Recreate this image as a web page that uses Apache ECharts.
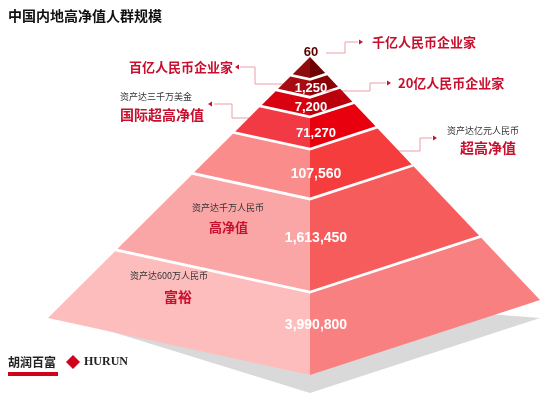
<!DOCTYPE html>
<html><head><meta charset="utf-8">
<script src="https://cdn.jsdelivr.net/npm/echarts@6/dist/echarts.min.js"></script>
<style>html,body{margin:0;padding:0;background:#fff}#c{width:550px;height:403px}</style>
</head><body><div id="c"></div>
<script>
const tierValues = [60, 1250, 7200, 71270, 107560, 1613450, 3990800];
const tierLabels = ['60', '1,250', '7,200', '71,270', '107,560', '1,613,450', '3,990,800'];
const tierBounds = [0, 0.066, 0.122, 0.184, 0.285, 0.442, 0.735, 1];
const leftColors = ['#8e0b0e', '#a80b12', '#d9000f', '#f23a45', '#fa8c8c', '#fba6a6', '#fdbdbd'];
const rightColors = ['#6e0004', '#8c0007', '#b9000b', '#e9000f', '#f53d3d', '#f65c5c', '#f98080'];
const annotTitles = ['千亿人民币企业家', '百亿人民币企业家', '20亿人民币企业家', '国际超高净值', '超高净值', '高净值', '富裕'];
const annotSubs = ['', '', '', '资产达三千万美金', '资产达亿元人民币', '资产达千万人民币', '资产达600万人民币'];

const A=[310,57], L=[48,318], F=[310,375], R=[540,300];
function pt(P,t){return [A[0]+(P[0]-A[0])*t, A[1]+(P[1]-A[1])*t];}
const gap = 0.009;

const chart = echarts.init(document.getElementById('c'));
const red = '#c8102e';
function lineEl(pts){return {type:'polyline',shape:{points:pts},style:{stroke:'#e8a0a8',lineWidth:1,fill:null},silent:true};}
function arrow(x,y,dir){return {type:'polygon',shape:{points: dir>0?[[x,y-2.5],[x+4,y],[x,y+2.5]]:[[x,y-2.5],[x-4,y],[x,y+2.5]]},style:{fill:red}};}
function txt(x,y,s,o){return {type:'text',x:x,y:y,z:100,style:Object.assign({text:s,font:'bold 13px "Noto Sans CJK SC"',fill:red,textVerticalAlign:'middle'},o||{})};}
const small = {font:'9px "Noto Sans CJK SC"', fill:'#333'};

const graphics = [
  txt(8,16,'中国内地高净值人群规模',{fill:'#111',font:'bold 14px "Noto Sans CJK SC"'}),
  {type:'polygon',z:-10,shape:{points:[[80,322],[310,393],[540,318],[310,300]]},style:{fill:'#d9d9d9'}},
  lineEl([[326,53],[345,53],[345,42],[358,42]]), arrow(359,42,1), txt(372,42,annotTitles[0]),
  lineEl([[295,84],[255,84],[255,67],[240,67]]), arrow(239,67,-1), txt(233,67,annotTitles[1],{textAlign:'right'}),
  lineEl([[325,91],[370,91],[370,83],[386,83]]), arrow(387,83,1), txt(398,83,annotTitles[2]),
  txt(120,97,annotSubs[3],small), arrow(212,104,-1),
  lineEl([[214,104],[232,104],[232,118],[262,118]]), txt(120,115,annotTitles[3],{font:'bold 14px "Noto Sans CJK SC"'}),
  lineEl([[390,151],[420,151],[420,138],[432,138]]), arrow(433,138,1),
  txt(447,131,annotSubs[4],small), txt(460,148,annotTitles[4],{font:'bold 14px "Noto Sans CJK SC"'}),
  txt(192,208,annotSubs[5],small), txt(209,227,annotTitles[5],{font:'bold 13px "Noto Sans CJK SC"'}),
  txt(130,276,annotSubs[6],small), txt(164,297,annotTitles[6],{font:'bold 14px "Noto Sans CJK SC"'}),
  {type:'rect',shape:{x:8,y:372,width:50,height:4},style:{fill:'#d0021b'}},
  txt(8,362,'胡润百富',{fill:'#222',font:'bold 12px "Noto Sans CJK SC"'}),
  {type:'polygon',shape:{points:[[73,355],[80,362],[73,369],[66,362]]},style:{fill:'#d0021b'}},
  txt(84,362,'HURUN',{fill:'#222',font:'bold 12px "Liberation Serif"'})
];

chart.setOption({
  animation:false,
  grid:{left:0,right:0,top:0,bottom:0},
  xAxis:{type:'value',min:0,max:550,show:false},
  yAxis:{type:'value',min:0,max:403,inverse:true,show:false},
  graphic:graphics,
  series:[{
    type:'custom',
    z:2,
    data: tierValues.map((v,i)=>[i,v]),
    renderItem:function(params,api){
      const i=api.value(0);
      const t0=tierBounds[i]+(i>0?gap:0), t1=tierBounds[i+1];
      const c=p=>api.coord(p);
      const lt=pt(L,t0), lb=pt(L,t1), ft=pt(F,t0), fb=pt(F,t1), rt=pt(R,t0), rb=pt(R,t1);
      const ym=(ft[1]+fb[1])/2;
      return {type:'group',children:[
        {type:'polygon',shape:{points:[lt,ft,fb,lb].map(c)},style:{fill:leftColors[i]}},
        {type:'polygon',shape:{points:[ft,rt,rb,fb].map(c)},style:{fill:rightColors[i]}},
        {type:'text',x:c([i<3?311:316,0])[0],y:c([0,i==0?52:(i==6?325:(i==5?238:ym))])[1],
          style:{text:tierLabels[i],textAlign:'center',textVerticalAlign:'middle',fill:i==0?'#5a0000':'#fff',
          font:'bold '+(i>=4?14:13)+'px "Liberation Sans"'}}
      ]};
    }
  }]
});
</script></body></html>
